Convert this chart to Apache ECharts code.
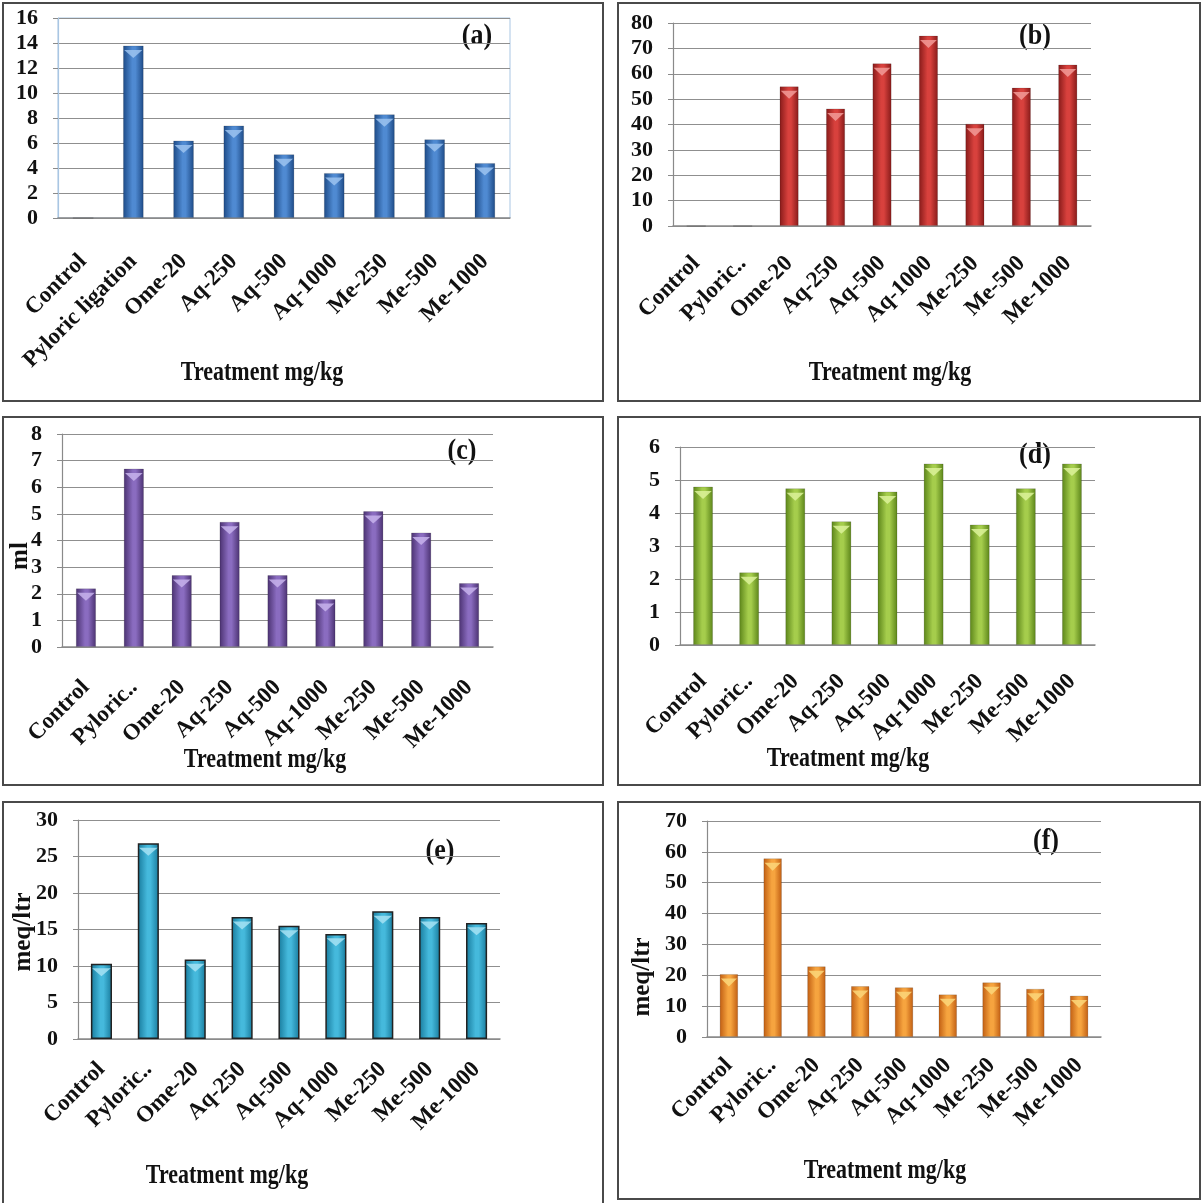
<!DOCTYPE html>
<html>
<head>
<meta charset="utf-8">
<title>Treatment mg/kg – panels (a)–(f)</title>
<script src="https://cdn.jsdelivr.net/npm/echarts@6/dist/echarts.min.js"></script>
<style>
  html, body { margin: 0; padding: 0; background: #fff; }
  #chart { width: 1203px; height: 1203px; }
</style>
</head>
<body>
<div id="chart"></div>
<script>
// Treatment groups (dose in mg/kg)
const categoriesLong = ['Control', 'Pyloric ligation', 'Ome-20', 'Aq-250', 'Aq-500', 'Aq-1000', 'Me-250', 'Me-500', 'Me-1000'];
const categoriesShort = ['Control', 'Pyloric..', 'Ome-20', 'Aq-250', 'Aq-500', 'Aq-1000', 'Me-250', 'Me-500', 'Me-1000'];

// Panel values
const valuesA = [0, 13.8, 6.2, 7.4, 5.1, 3.6, 8.3, 6.3, 4.4];
const valuesB = [0, 0, 55.0, 46.3, 64.1, 75.0, 40.3, 54.5, 63.6];
const valuesC = [2.2, 6.7, 2.7, 4.7, 2.7, 1.8, 5.1, 4.3, 2.4];
const valuesD = [4.8, 2.2, 4.75, 3.75, 4.65, 5.5, 3.65, 4.75, 5.5];
const valuesE = [10.3, 26.8, 10.9, 16.7, 15.5, 14.4, 17.5, 16.7, 15.9];
const valuesF = [20.4, 57.9, 22.9, 16.5, 16.1, 13.8, 17.7, 15.6, 13.4];

// Value-axis ranges: [min, max, interval]
const axisA = [0, 16, 2];
const axisB = [0, 80, 10];
const axisC = [0, 8, 1];
const axisD = [0, 6, 1];
const axisE = [0, 30, 5];
const axisF = [0, 70, 10];

const xTitle = 'Treatment mg/kg';
const FONT = '"Liberation Serif", "Times New Roman", serif';

function barGradient(edge, mid) {
  return new echarts.graphic.LinearGradient(0, 0, 1, 0, [
    { offset: 0, color: edge },
    { offset: 0.45, color: mid },
    { offset: 0.6, color: mid },
    { offset: 1, color: edge }
  ]);
}

const panels = [
  { tag: '(a)', cats: categoriesLong, data: valuesA, axis: axisA,
    grid: { left: 58, top: 18, width: 452, height: 200 }, frame: [3, 3, 600, 398],
    labelMargin: 40, edge: '#1d4a86', mid: '#4f8ad2', cap: '#9cc3f0', bw: '41%',
    gridBorder: '#a9c6e3', axisColor: '#a9c6e3',
    tagPos: [477, 37], titlePos: [262, 373] },
  { tag: '(b)', cats: categoriesShort, data: valuesB, axis: axisB,
    grid: { left: 673, top: 23, width: 418, height: 203 }, frame: [618, 3, 582, 398],
    labelMargin: 34, edge: '#861a19', mid: '#d8413d', cap: '#f29b98', bw: '41%',
    tagPos: [1035, 37], titlePos: [890, 373] },
  { tag: '(c)', cats: categoriesShort, data: valuesC, axis: axisC,
    grid: { left: 62, top: 434, width: 431, height: 213 }, frame: [3, 417, 600, 368],
    labelMargin: 37, edge: '#4a3170', mid: '#8a6cc0', cap: '#c7b3ec', bw: '42%',
    yName: 'ml', yNamePos: [21, 556],
    tagPos: [462, 452], titlePos: [265, 760] },
  { tag: '(d)', cats: categoriesShort, data: valuesD, axis: axisD,
    grid: { left: 680, top: 447, width: 415, height: 198 }, frame: [618, 417, 582, 368],
    labelMargin: 33, edge: '#5b8419', mid: '#a5cd4c', cap: '#dcf29a', bw: '43%',
    tagPos: [1035, 456], titlePos: [848, 759] },
  { tag: '(e)', cats: categoriesShort, data: valuesE, axis: axisE,
    grid: { left: 78, top: 820, width: 422, height: 219 }, frame: [3, 802, 600, 404],
    labelMargin: 27, edge: '#177a9c', mid: '#45b9dc', cap: '#a6e2f3', bw: '45%',
    barBorder: '#222',
    yName: 'meq/ltr', yNamePos: [24, 932],
    tagPos: [440, 852], titlePos: [227, 1176] },
  { tag: '(f)', cats: categoriesShort, data: valuesF, axis: axisF,
    grid: { left: 707, top: 821, width: 394, height: 216 }, frame: [618, 802, 582, 397],
    labelMargin: 25, edge: '#c05d12', mid: '#f6a43f', cap: '#fbd77a', bw: '42%',
    yName: 'meq/ltr', yNamePos: [643, 977],
    tagPos: [1046, 842], titlePos: [885, 1171] }
];

const grid = [], xAxis = [], yAxis = [], series = [], graphic = [];

panels.forEach((p, i) => {
  grid.push(Object.assign({
    show: !!p.gridBorder,
    borderColor: p.gridBorder || '#ccc',
    borderWidth: 1,
    backgroundColor: 'transparent'
  }, p.grid));

  xAxis.push({
    type: 'category', gridIndex: i, data: p.cats,
    axisLine: { show: true, lineStyle: { color: '#8a8a8a', width: 1.5 } },
    axisTick: { show: false },
    axisLabel: {
      interval: 0, rotate: 45, margin: p.labelMargin,
      fontFamily: FONT, fontWeight: 'bold', fontSize: 23, color: '#111'
    }
  });

  yAxis.push({
    type: 'value', gridIndex: i,
    min: p.axis[0], max: p.axis[1], interval: p.axis[2],
    axisLine: { show: true, lineStyle: { color: p.axisColor || '#8a8a8a', width: 1.2 } },
    axisTick: { show: true, length: 5, lineStyle: { color: '#8a8a8a' } },
    splitLine: { show: true, lineStyle: { color: '#8f8f8f', width: 1.2 } },
    axisLabel: {
      margin: 20, fontFamily: FONT, fontWeight: 'bold', fontSize: 22, color: '#111'
    }
  });

  series.push({
    type: 'bar', xAxisIndex: i, yAxisIndex: i,
    data: p.data, barWidth: p.bw, silent: true,
    itemStyle: {
      color: barGradient(p.edge, p.mid),
      borderColor: p.barBorder || 'rgba(0,0,0,0.18)',
      borderWidth: p.barBorder ? 1.5 : 0.8
    }
  });

  // bevel highlight at the top of each bar
  series.push({
    type: 'pictorialBar', xAxisIndex: i, yAxisIndex: i,
    data: p.data.map(v => (v > 0 ? v : null)),
    symbol: 'triangle', symbolRotate: 180,
    symbolSize: ['88%', 8], symbolPosition: 'end',
    symbolOffset: [0, '55%'], barWidth: p.bw,
    silent: true, z: 3,
    itemStyle: { color: p.cap, opacity: 0.85 }
  });

  graphic.push({
    type: 'rect', silent: true,
    shape: { x: p.frame[0], y: p.frame[1], width: p.frame[2], height: p.frame[3] },
    style: { fill: 'none', stroke: '#4a4a4a', lineWidth: 2 }, z: 10
  });
  graphic.push({
    type: 'text', silent: true, x: p.tagPos[0], y: p.tagPos[1], scaleY: 1.1,
    style: { text: p.tag, font: 'bold 26px ' + FONT, fill: '#111', align: 'center', verticalAlign: 'middle' }
  });
  graphic.push({
    type: 'text', silent: true, x: p.titlePos[0], y: p.titlePos[1], scaleY: 1.2,
    style: { text: xTitle, font: 'bold 22px ' + FONT, fill: '#111', align: 'center', verticalAlign: 'middle' }
  });
  if (p.yName) {
    graphic.push({
      type: 'text', silent: true, x: p.yNamePos[0], y: p.yNamePos[1], rotation: Math.PI / 2,
      style: { text: p.yName, font: 'bold 25px ' + FONT, fill: '#111', align: 'center', verticalAlign: 'middle' }
    });
  }
});

const chart = echarts.init(document.getElementById('chart'), null, { renderer: 'canvas' });
chart.setOption({
  animation: false,
  backgroundColor: '#fff',
  grid, xAxis, yAxis, series, graphic
});
</script>
</body>
</html>
